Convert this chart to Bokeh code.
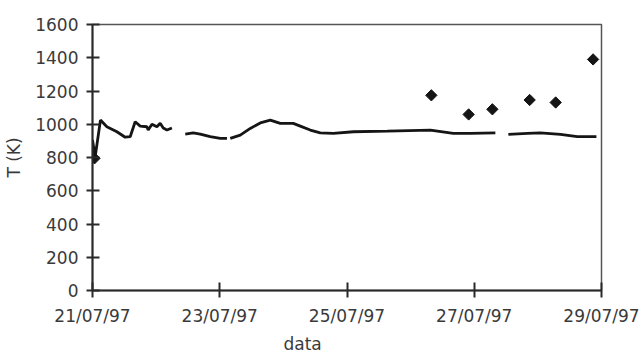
import numpy as np
import pandas as pd
from bokeh.plotting import figure
from bokeh.models import (Range1d, FixedTicker, DatetimeTickFormatter, Title,
                          ColumnDataSource)
from bokeh.embed import file_html
from bokeh.resources import INLINE

# measured temperature (continuous record, NaN = gap in record)
line_time = [
    "1997-07-21 00:00", "1997-07-21 01:00", "1997-07-21 03:00", "1997-07-21 05:25",
    "1997-07-21 09:12", "1997-07-21 12:20", "1997-07-21 14:13", "1997-07-21 16:06",
    "1997-07-21 18:00", "1997-07-21 20:31", "1997-07-21 21:01", "1997-07-21 22:25",
    "1997-07-22 00:18", "1997-07-22 01:32", "1997-07-22 02:41", "1997-07-22 04:05",
    "1997-07-22 05:57", "1997-07-22 08:30",
    "1997-07-22 11:00", "1997-07-22 14:00", "1997-07-22 16:38", "1997-07-22 20:24",
    "1997-07-23 00:11", "1997-07-23 02:43", "1997-07-23 03:20",
    "1997-07-23 03:58", "1997-07-23 07:44", "1997-07-23 11:31", "1997-07-23 15:17",
    "1997-07-23 19:04", "1997-07-23 22:50", "1997-07-24 03:44", "1997-07-24 06:23",
    "1997-07-24 10:09", "1997-07-24 13:55", "1997-07-24 18:50", "1997-07-25 02:23",
    "1997-07-25 15:13", "1997-07-26 07:26", "1997-07-26 16:06", "1997-07-26 22:32",
    "1997-07-27 07:58", "1997-07-27 10:30",
    "1997-07-27 12:52", "1997-07-27 20:02", "1997-07-28 00:56", "1997-07-28 08:30",
    "1997-07-28 14:54", "1997-07-28 22:05",
]
line_temp = [
    905, 803, 1025, 985,
    955, 922, 925, 1015,
    989, 985, 965, 1000,
    985, 1006, 977, 965,
    977, np.nan,
    941, 948, 941, 925,
    915, 915, np.nan,
    915, 935, 975, 1008,
    1025, 1005, 1005, 989,
    965, 948, 945, 955,
    959, 965, 945, 945,
    948, np.nan,
    939, 945, 948, 939,
    925, 925,
]

# spot measurements (diamonds)
point_time = [
    "1997-07-21 00:45", "1997-07-26 07:49", "1997-07-26 21:53", "1997-07-27 06:50",
    "1997-07-27 20:54", "1997-07-28 06:43", "1997-07-28 20:50",
]
point_temp = [795, 1174, 1059, 1090, 1146, 1131, 1390]

x_ticks = ["1997-07-21", "1997-07-23", "1997-07-25", "1997-07-27", "1997-07-29"]
y_ticks = [0, 200, 400, 600, 800, 1000, 1200, 1400, 1600]

FONT = "DejaVu Sans"
TXT = "#3a3a3a"

lsrc = ColumnDataSource(dict(t=pd.to_datetime(line_time), v=line_temp))
psrc = ColumnDataSource(dict(t=pd.to_datetime(point_time), v=point_temp))

x_ticks_dt = pd.to_datetime(x_ticks)
x_ticks_ms = [int(d.value // 10**6) for d in x_ticks_dt]

p = figure(width=641, height=356, output_backend="svg", toolbar_location=None,
           x_axis_type="datetime",
           x_range=Range1d(x_ticks_dt[0], x_ticks_dt[-1]),
           y_range=Range1d(0, 1600),
           min_border_left=92, min_border_right=40,
           min_border_top=24, min_border_bottom=0)

p.line("t", "v", source=lsrc, line_color="#151515", line_width=2.8)
p.scatter("t", "v", source=psrc, marker="square", angle=np.pi / 4, size=8,
          fill_color="#151515", line_color="#151515")

p.grid.visible = False
p.outline_line_color = "#555555"
p.outline_line_width = 1.5
p.background_fill_color = "white"
p.border_fill_color = "white"

p.xaxis.ticker = FixedTicker(ticks=x_ticks_ms)
fmt = "%d/%m/%y"
p.xaxis.formatter = DatetimeTickFormatter(
    milliseconds=fmt, seconds=fmt, minsec=fmt, minutes=fmt, hourmin=fmt,
    hours=fmt, days=fmt, months=fmt, years=fmt)
p.yaxis.ticker = FixedTicker(ticks=y_ticks)

for ax in (p.xaxis[0], p.yaxis[0]):
    ax.axis_line_color = "#2a2a2a"
    ax.axis_line_width = 2
    ax.major_tick_line_color = "#2a2a2a"
    ax.major_tick_line_width = 2
    ax.minor_tick_line_color = None
    ax.major_label_text_font = FONT
    ax.major_label_text_font_size = "17px"
    ax.major_label_text_color = TXT
    ax.axis_label_text_font = FONT
    ax.axis_label_text_font_size = "17px"
    ax.axis_label_text_font_style = "normal"
    ax.axis_label_text_color = TXT

p.yaxis.major_tick_in = 7
p.yaxis.major_tick_out = 6
p.yaxis.major_label_standoff = 8
p.yaxis.axis_label = "T (K)"
p.yaxis.axis_label_standoff = 8

p.xaxis.major_tick_in = 8
p.xaxis.major_tick_out = 7
p.xaxis.major_label_standoff = 8

xtitle = Title(text="data", align="left", offset=191, standoff=6,
               text_font=FONT, text_font_size="17px", text_color=TXT,
               text_font_style="normal")
p.add_layout(xtitle, "below")

open("out.html", "w").write(file_html(p, INLINE))
